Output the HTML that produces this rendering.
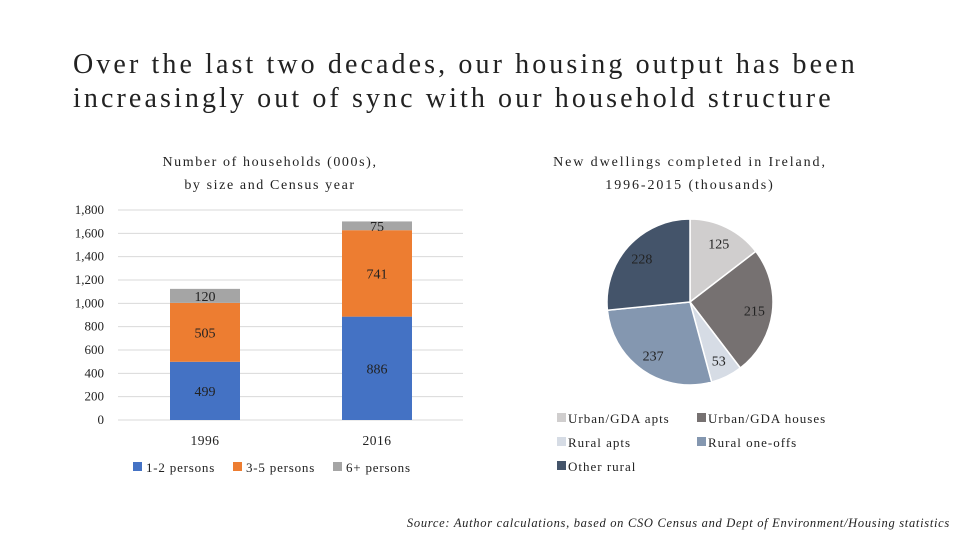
<!DOCTYPE html>
<html><head><meta charset="utf-8"><style>
body{margin:0;width:960px;height:540px;background:#fff;overflow:hidden;font-family:"Liberation Serif",serif;}
svg text{font-family:"Liberation Serif",serif;}
</style></head><body>
<svg width="960" height="540">
<text x="73" y="73" font-size="28" letter-spacing="3.1" fill="#222">Over the last two decades, our housing output has been</text>
<text x="73" y="107" font-size="28" letter-spacing="3.1" fill="#222">increasingly out of sync with our household structure</text>
<text x="270" y="166" font-size="14" text-anchor="middle" letter-spacing="1.6" fill="#222">Number of households (000s),</text>
<text x="270" y="189" font-size="14" text-anchor="middle" letter-spacing="1.6" fill="#222">by size and Census year</text>
<text x="690" y="166" font-size="14" text-anchor="middle" letter-spacing="1.9" fill="#222">New dwellings completed in Ireland,</text>
<text x="690" y="189" font-size="14" text-anchor="middle" letter-spacing="1.9" fill="#222">1996-2015 (thousands)</text>
<g id="bars"></g><g id="pie"></g>
<text x="950" y="527" font-size="12.5" font-style="italic" text-anchor="end" letter-spacing="0.7" fill="#222">Source: Author calculations, based on CSO Census and Dept of Environment/Housing statistics</text>
</svg>
<script>
const years=["1996","2016"];
const small=[499,886];
const mid=[505,741];
const large=[120,75];
const yTicks=[0,200,400,600,800,1000,1200,1400,1600,1800];
const seriesNames=["1-2 persons","3-5 persons","6+ persons"];
const pieLabels=["Urban/GDA apts","Urban/GDA houses","Rural apts","Rural one-offs","Other rural"];
const pieValues=[125,215,53,237,228];
const NS="http://www.w3.org/2000/svg";
function mk(p,t,a){const e=document.createElementNS(NS,t);for(const k in a)e.setAttribute(k,a[k]);p.appendChild(e);return e;}
const bg=document.getElementById('bars');
const y=v=>420-v*(210/1800);
const xc=i=>205+i*172;
yTicks.forEach(t=>{
 const l=mk(bg,'line',{x1:118,x2:463,y1:y(t),y2:y(t),stroke:'#d9d9d9','stroke-width':1});
 
 
 const tx=mk(bg,'text',{x:104,y:y(t)+4,'font-size':13,'text-anchor':'end',fill:'#222'});
 tx.textContent=t.toLocaleString('en-US');
 
 
});
const cols=['#4472c4','#ed7d31','#a5a5a5'];
const series=[small,mid,large];
years.forEach((yr,i)=>{
 let base=0;
 series.forEach((s,k)=>{
  const v=s[i];
  const r=mk(bg,'rect',{x:xc(i)-35,y:y(base+v),width:70,height:y(base)-y(base+v),fill:cols[k]});
  
  
  const lb=mk(bg,'text',{x:xc(i),y:(y(base)+y(base+v))/2+5,'font-size':14,'text-anchor':'middle',fill:'#222'});
  lb.textContent=v;
  
  
  base+=v;
 });
 const xl=mk(bg,'text',{x:xc(i),y:445,'font-size':13.5,'text-anchor':'middle','letter-spacing':0.5,fill:'#222'});
 xl.textContent=yr;
 
 
});
[133,233,333].forEach((lx,k)=>{
 const s=mk(bg,'rect',{x:lx,y:462,width:9,height:9,fill:cols[k]});
 
 
 const t=mk(bg,'text',{x:lx+13,y:472,'font-size':13,'letter-spacing':0.8,fill:'#222'});
 t.textContent=seriesNames[k];
 
 
});
const pg=document.getElementById('pie');
const pcols=['#d0cece','#767171','#d6dce5','#8497b0','#44546a'];
const cx=690,cy=302,R=83;
const tot=pieValues.reduce((a,b)=>a+b,0);
let ang=0;
pieValues.forEach((v,i)=>{
 const a0=ang,a1=ang+v/tot*2*Math.PI;ang=a1;
 const p=a=>[cx+R*Math.sin(a),cy-R*Math.cos(a)];
 const [x0,y0]=p(a0),[x1,y1]=p(a1);
 const path=mk(pg,'path',{d:`M${cx},${cy}L${x0},${y0}A${R},${R} 0 ${a1-a0>Math.PI?1:0} 1 ${x1},${y1}Z`,fill:pcols[i],stroke:'#fff','stroke-width':1.5});
 
 
 const m=(a0+a1)/2;
 const t=mk(pg,'text',{x:cx+65*Math.sin(m),y:cy-65*Math.cos(m)+5,'font-size':14,'text-anchor':'middle',fill:'#222'});
 t.textContent=v;
 
 
});
const lpos=[[557,418],[697,418],[557,442],[697,442],[557,466]];
pieLabels.forEach((n,i)=>{
 const s=mk(pg,'rect',{x:lpos[i][0],y:lpos[i][1]-5,width:9,height:9,fill:pcols[i]});
 
 
 const t=mk(pg,'text',{x:lpos[i][0]+11,y:lpos[i][1]+5,'font-size':13,'letter-spacing':1,fill:'#222'});
 t.textContent=n;
 
 
});
</script>
</body></html>
